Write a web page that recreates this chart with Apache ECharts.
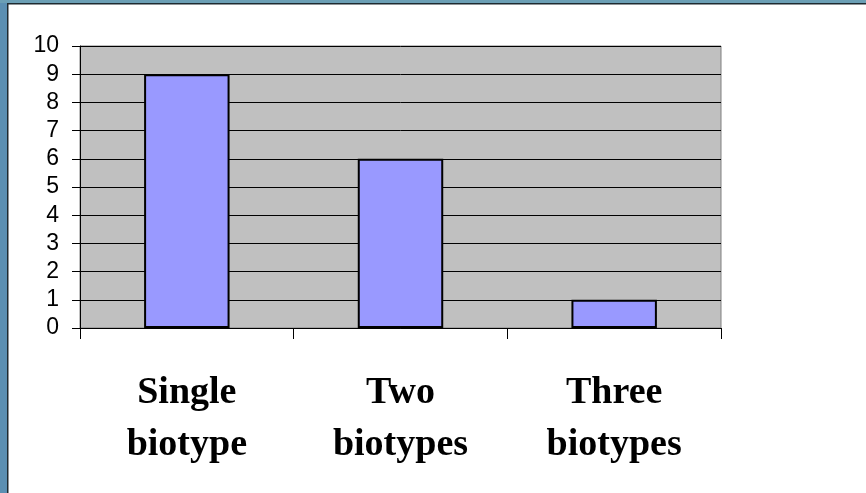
<!DOCTYPE html>
<html>
<head>
<meta charset="utf-8">
<script src="https://cdn.jsdelivr.net/npm/echarts@6/dist/echarts.min.js"></script>
<style>
  html, body { margin: 0; padding: 0; background: #fff; }
  #chart { width: 866px; height: 493px; }
</style>
</head>
<body>
<div id="chart"></div>
<script>
  var categories = ['Single\nbiotype', 'Two\nbiotypes', 'Three\nbiotypes'];
  var counts = [9, 6, 1];
  var yTicks = [0, 1, 2, 3, 4, 5, 6, 7, 8, 9, 10];

  var chart = echarts.init(document.getElementById('chart'));
  var option = {
    backgroundColor: '#ffffff',
    animation: false,
    graphic: [
      // slide frame edge, left and top
      { type: 'rect', shape: { x: 0, y: 0, width: 7, height: 493 }, style: { fill: '#5b8fb2' }, z: 100 },
      { type: 'rect', shape: { x: 7, y: 0, width: 1.5, height: 493 }, style: { fill: '#1e2a30' }, z: 100 },
      { type: 'rect', shape: { x: 0, y: 0, width: 866, height: 3 }, style: { fill: '#6b9fb5' }, z: 100 },
      { type: 'rect', shape: { x: 7, y: 3, width: 859, height: 1.5 }, style: { fill: '#1e2a30' }, z: 100 }
    ],
    grid: {
      left: 80, top: 46, width: 641, height: 282,
      show: true, backgroundColor: '#c0c0c0', borderColor: '#808080', borderWidth: 1
    },
    xAxis: {
      type: 'category',
      data: categories,
      axisLine: { lineStyle: { color: '#000', width: 1 } },
      axisTick: { show: true, length: 11, lineStyle: { color: '#000' } },
      axisLabel: {
        margin: 39,
        fontFamily: 'Liberation Serif',
        fontWeight: 'bold',
        fontSize: 38,
        lineHeight: 52,
        color: '#000'
      }
    },
    yAxis: {
      type: 'value',
      min: 0,
      max: 10,
      interval: 1,
      axisLine: { show: true, lineStyle: { color: '#000', width: 1 } },
      axisTick: { show: true, length: 8, lineStyle: { color: '#000' } },
      splitLine: { lineStyle: { color: '#000', width: 1 } },
      axisLabel: {
        margin: 21,
        fontFamily: 'Liberation Sans',
        fontSize: 23,
        color: '#000',
        formatter: function (v) { return yTicks.indexOf(v) >= 0 ? String(v) : ''; }
      }
    },
    series: [{
      type: 'bar',
      data: counts,
      barWidth: '40%',
      itemStyle: { color: '#9999ff', borderColor: '#000', borderWidth: 2 }
    }]
  };
  chart.setOption(option);
</script>
</body>
</html>
